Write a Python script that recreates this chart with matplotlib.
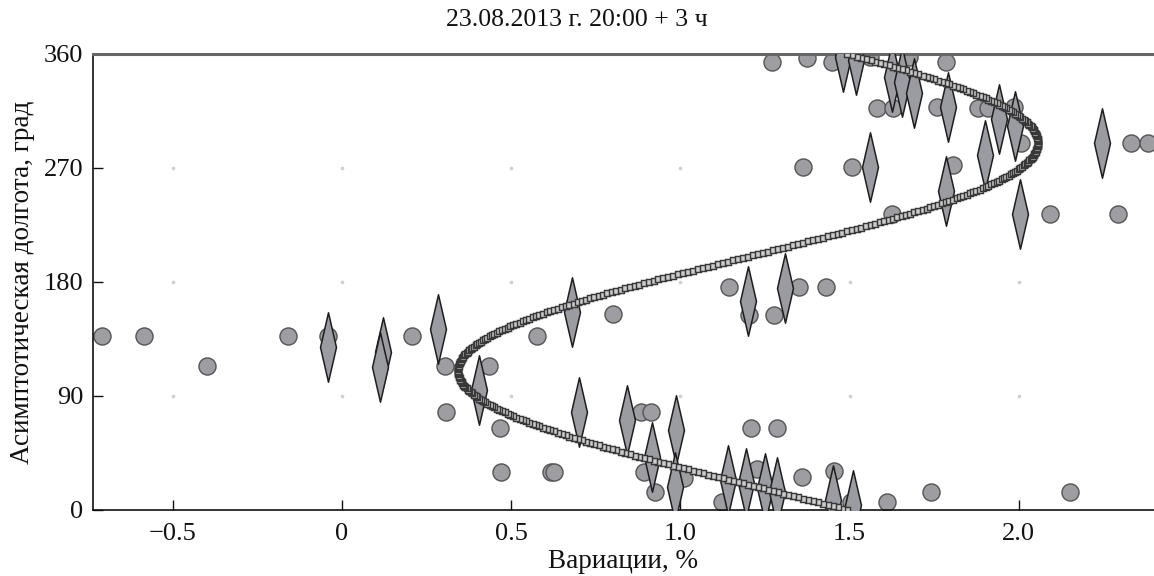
import numpy as np
import matplotlib
matplotlib.use("Agg")
import matplotlib.pyplot as plt
from matplotlib.path import Path

plt.rcParams['font.family'] = ['Liberation Serif', 'DejaVu Serif']
plt.rcParams['axes.unicode_minus'] = True

# ---- data ----
title_text = "23.08.2013 г. 20:00 + 3 ч"
x_label = "Вариации, %"
y_label = "Асимптотическая долгота, град"

x_ticks = [-0.5, 0.0, 0.5, 1.0, 1.5, 2.0]
x_tick_labels = ["\u22120.5", "0", "0.5", "1.0", "1.5", "2.0"]
y_ticks = [0, 90, 180, 270, 360]
y_tick_labels = ["0", "90", "180", "270", "360"]

# circles: (variation %, asymptotic longitude deg)
circle_x = [-0.709, -0.585, -0.16, -0.04, 0.207, 0.576,
            -0.40, 0.304, 0.434,
            0.307, 0.883, 0.912,
            0.467, 1.208, 1.285,
            0.47, 0.617, 0.626, 0.892, 1.226, 1.455,
            1.01, 1.36,
            0.924, 1.742, 2.153,
            1.123, 1.503, 1.612,
            0.80, 1.202, 1.276,
            1.143, 1.35, 1.43,
            1.625, 2.094, 2.295,
            1.364, 1.506, 1.807,
            2.008, 2.333, 2.383,
            1.58, 1.63, 1.76, 1.88, 1.91, 1.985,
            1.27, 1.374, 1.447, 1.562, 1.675, 1.784]
circle_y = [137, 137, 137, 137, 137, 137,
            114, 114, 114,
            77, 77, 77,
            65, 65, 65,
            30, 30, 30, 30, 32, 31,
            25, 26,
            14, 14, 14,
            6, 6, 6,
            155, 154, 154,
            176, 176, 176,
            234, 234, 234,
            271, 271, 272,
            290, 290, 290,
            317, 317, 318, 317, 317, 318,
            354, 357, 354, 358, 358, 354]

# diamonds: (variation %, asymptotic longitude deg)
diamond_x = [-0.041, 0.121, 0.112, 0.284, 0.405, 0.68, 0.70, 0.842,
             0.916, 0.987, 0.985, 1.14, 1.194, 1.249, 1.285, 1.45, 1.51,
             1.199, 1.308, 1.56, 1.784, 1.90, 2.003, 1.943, 1.99, 1.79,
             1.625, 1.655, 1.69, 1.48, 1.518, 2.245]
diamond_y = [129, 125, 113, 143, 95, 156, 77, 71,
             42, 63, 18, 24, 21, 17, 14, 8, 4,
             165, 175, 271, 252, 280, 234, 309, 303, 318,
             342, 338, 329, 358, 355, 290]

# first-harmonic fit: variation = mean + amp * cos(lon - phase)
fit_mean = 1.20
fit_amp = 0.857
fit_phase = 290.0
fit_lon = np.arange(0, 361, 1.0)
fit_var = fit_mean + fit_amp * np.cos(np.deg2rad(fit_lon - fit_phase))

# ---- figure ----
W, H, DPI = 1154, 576, 100
fig = plt.figure(figsize=(W / DPI, H / DPI), dpi=DPI)
ax = fig.add_axes([93 / W, 1 - 510 / H, 1 - 93 / W, (510 - 54) / H])

ax.set_xlim(-0.736, 2.40)
ax.set_ylim(0, 360)

# grid dots at tick intersections
gx, gy = np.meshgrid(x_ticks, y_ticks[1:-1])
ax.plot(gx.ravel(), gy.ravel(), linestyle='none', marker='o', ms=1.6,
        color='#cfcfcf', zorder=1)

ax.plot(circle_x, circle_y, linestyle='none', marker='o', ms=12.3,
        mfc='#9d9da2', mec='#555555', mew=1.0, zorder=2, clip_on=True)

diamond_path = Path([(0, -1), (0.23, 0), (0, 1), (-0.23, 0), (0, -1)],
                    [Path.MOVETO, Path.LINETO, Path.LINETO, Path.LINETO,
                     Path.CLOSEPOLY])
ax.plot(diamond_x, diamond_y, linestyle='none', marker=diamond_path, ms=50,
        mfc='#9a9ca2', mec='#1e1e1e', mew=1.1, zorder=3, clip_on=True)

ax.plot(fit_var, fit_lon, linestyle='none', marker='s', ms=4.6,
        mfc='#cccccc', mec='#383838', mew=1.05, zorder=4, clip_on=True)

# spines
for s in ['left', 'bottom']:
    ax.spines[s].set_color('#111111')
    ax.spines[s].set_linewidth(1.2)
ax.spines['top'].set_color('#666666')
ax.spines['top'].set_linewidth(2.2)
ax.spines['right'].set_visible(False)

ax.set_xticks(x_ticks)
ax.set_xticklabels(x_tick_labels)
ax.set_yticks(y_ticks)
ax.set_yticklabels(y_tick_labels)
ax.tick_params(axis='both', direction='in', length=7, width=1.0,
               colors='#111111', labelsize=19, pad=7)
ax.tick_params(axis='x', pad=9)

ax.set_xlabel(x_label, fontsize=19.5, color='#111111', labelpad=3)
ax.set_ylabel(y_label, fontsize=19.5, color='#111111', labelpad=6)
fig.text(0.5, 1 - 20 / H, title_text, ha='center', va='center',
         fontsize=18.5, color='#111111')

fig.savefig("out.png", dpi=DPI)
